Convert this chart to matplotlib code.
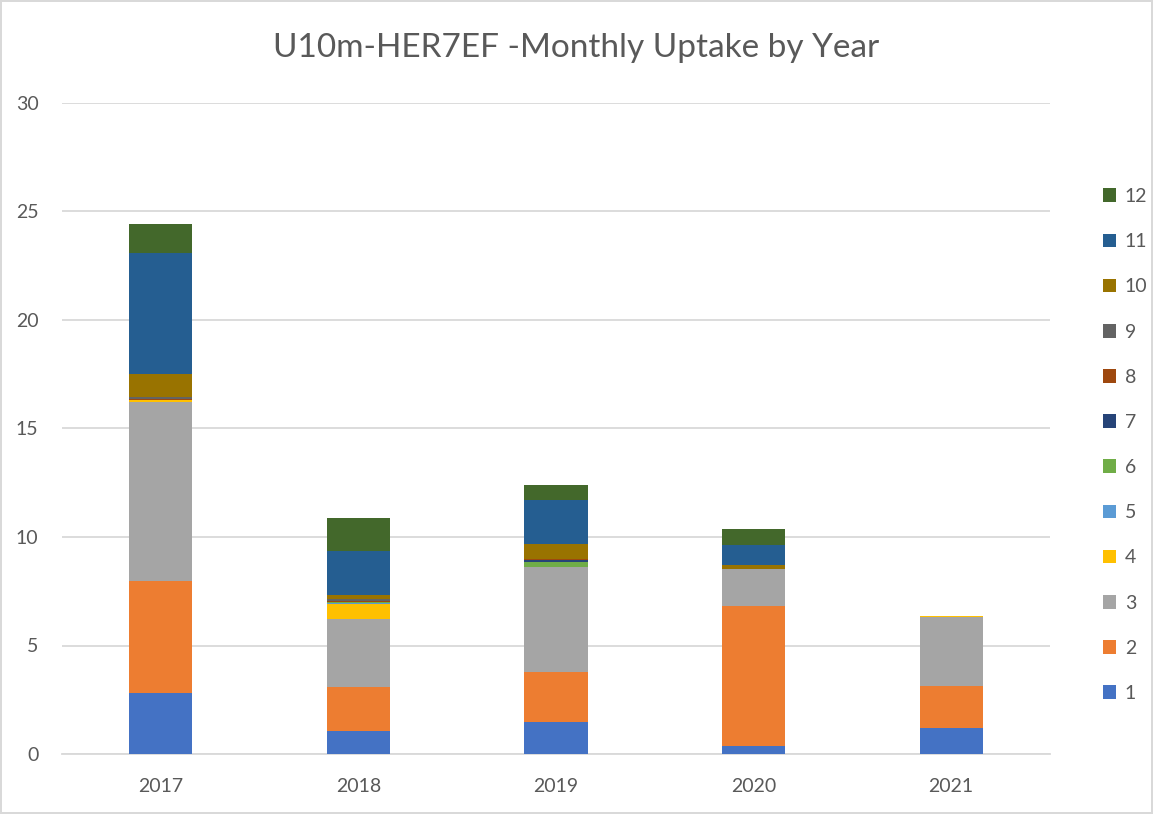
import numpy as np
import matplotlib
matplotlib.use("Agg")
import matplotlib.pyplot as plt
from matplotlib.patches import Patch

plt.rcParams['font.family'] = ['Lato', 'DejaVu Sans']

years = ["2017", "2018", "2019", "2020", "2021"]
months = ["1", "2", "3", "4", "5", "6", "7", "8", "9", "10", "11", "12"]

# monthly uptake per year, one list per month
m1 = [2.80, 1.07, 1.49, 0.35, 1.22]
m2 = [5.17, 2.03, 2.31, 6.45, 1.92]
m3 = [8.27, 3.14, 4.82, 1.72, 3.17]
m4 = [0.06, 0.69, 0.00, 0.00, 0.06]
m5 = [0.00, 0.05, 0.00, 0.00, 0.00]
m6 = [0.00, 0.04, 0.23, 0.00, 0.00]
m7 = [0.00, 0.00, 0.10, 0.00, 0.00]
m8 = [0.06, 0.04, 0.03, 0.00, 0.00]
m9 = [0.08, 0.10, 0.02, 0.00, 0.00]
m10 = [1.07, 0.18, 0.67, 0.20, 0.00]
m11 = [5.56, 2.02, 2.03, 0.93, 0.00]
m12 = [1.37, 1.53, 0.70, 0.70, 0.00]
series = [m1, m2, m3, m4, m5, m6, m7, m8, m9, m10, m11, m12]

colors = ["#4472C4", "#ED7D31", "#A5A5A5", "#FFC000", "#5B9BD5", "#70AD47",
          "#264478", "#9E480E", "#636363", "#997300", "#255E91", "#43682B"]

fig = plt.figure(figsize=(11.53, 8.14), dpi=100)
fig.patch.set_edgecolor("#D9D9D9")
fig.patch.set_linewidth(1.5)
ax = fig.add_axes([62/1153, 1 - 754/814, 988/1153, 651/814])

x = np.arange(len(years))
bottom = np.zeros(len(years))
for vals, c in zip(series, colors):
    ax.bar(x, vals, width=0.32, bottom=bottom, color=c, zorder=3)
    bottom += np.array(vals)

ax.set_xlim(-0.5, 4.5)
ax.set_ylim(0, 30)
ax.set_yticks(range(0, 31, 5))
ax.set_xticks(x)
ax.set_xticklabels(years)
ax.grid(axis="y", color="#D9D9D9", linewidth=1.3, zorder=0)
for s in ["top", "right", "left"]:
    ax.spines[s].set_visible(False)
ax.spines["bottom"].set_color("#D9D9D9")
ax.spines["bottom"].set_linewidth(1.3)
ax.tick_params(length=0, labelsize=14, colors="#595959")
ax.tick_params(axis="x", pad=17)
ax.tick_params(axis="y", pad=17)

fig.text(0.5, 1 - 48/814, "U10m-HER7EF -Monthly Uptake by Year", ha="center",
         va="center", fontsize=24, color="#595959")

handles = [Patch(facecolor=c, label=m) for m, c in zip(months, colors)]
leg = fig.legend(handles[::-1], months[::-1], loc="center left",
                 bbox_to_anchor=(1085/1153, 1 - 445/814), frameon=False,
                 fontsize=14, labelspacing=1.45, handlelength=0.7,
                 handleheight=0.7, handletextpad=0.45)
for t in leg.get_texts():
    t.set_color("#595959")

fig.savefig("out.png", dpi=100)
